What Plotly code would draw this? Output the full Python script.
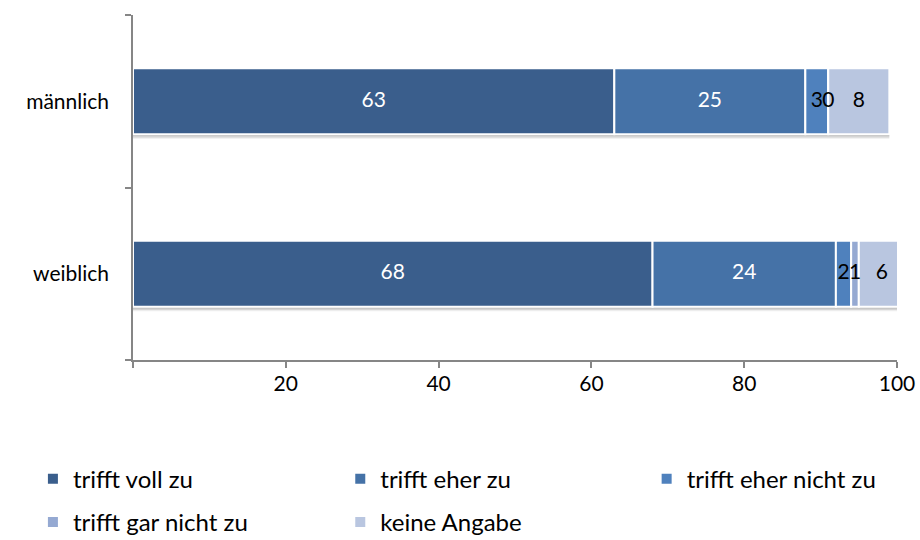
import numpy as np
import plotly.graph_objects as go

# Categories (bottom to top) and answer shares in percent
categories = ["weiblich", "männlich"]
series_names = ["trifft voll zu", "trifft eher zu", "trifft eher nicht zu",
                "trifft gar nicht zu", "keine Angabe"]
voll_zu = [68, 63]
eher_zu = [24, 25]
eher_nicht_zu = [2, 3]
gar_nicht_zu = [1, 0]
keine_angabe = [6, 8]

series_values = [voll_zu, eher_zu, eher_nicht_zu, gar_nicht_zu, keine_angabe]
colors = ["#3A5E8C", "#4572A7", "#4F81BD", "#95A9D2", "#B9C6E0"]
label_colors = ["white", "white", "black", "black", "black"]
legend_ids = ["legend", "legend2", "legend3", "legend", "legend2"]

x_tickvals = [0, 20, 40, 60, 80, 100]
x_ticktext = ["", "20", "40", "60", "80", "100"]

FONT = "Lato"
BAR_W = 0.383

vals = np.array(series_values, dtype=float)
bases = np.vstack([np.zeros(vals.shape[1]), np.cumsum(vals, axis=0)[:-1]])
totals = vals.sum(axis=0)

fig = go.Figure()

# soft drop shadow under each bar
for shift, alpha in [(0.026, 0.07), (0.018, 0.10), (0.010, 0.12)]:
    fig.add_trace(go.Bar(
        y=categories, x=totals, base=[0] * len(categories), orientation="h",
        width=BAR_W, offset=-BAR_W / 2 - shift,
        marker=dict(color=f"rgba(0,0,0,{alpha})", line=dict(width=0)),
        showlegend=False, hoverinfo="skip",
    ))

for i, name in enumerate(series_names):
    fig.add_trace(go.Bar(
        y=categories, x=vals[i], base=bases[i], orientation="h",
        name=name, width=BAR_W,
        marker=dict(color=colors[i], line=dict(color="white", width=2)),
        legend=legend_ids[i], legendgroup=name,
    ))

# value labels centred on each segment
for i, name in enumerate(series_names):
    fig.add_trace(go.Scatter(
        y=categories, x=bases[i] + vals[i] / 2, mode="text",
        text=[str(int(v)) for v in series_values[i]],
        textposition="middle center",
        textfont=dict(family=FONT, size=21, color=label_colors[i]),
        showlegend=False, hoverinfo="skip", cliponaxis=False,
    ))

axis_col = "#868686"
legend_common = dict(
    orientation="v", xanchor="left", yanchor="top",
    font=dict(family=FONT, size=24, color="black"),
    tracegroupgap=9, traceorder="grouped", bgcolor="rgba(0,0,0,0)",
)
fig.update_layout(
    width=920, height=540,
    margin=dict(l=133, r=23, t=15, b=180, autoexpand=False),
    paper_bgcolor="white", plot_bgcolor="white",
    barmode="overlay",
    font=dict(family=FONT, size=21, color="black"),
    xaxis=dict(
        range=[0, 100], tickvals=x_tickvals, ticktext=x_ticktext,
        showline=True, linecolor=axis_col, linewidth=1.5,
        ticks="outside", ticklen=6, tickcolor=axis_col, tickwidth=1.5,
        showgrid=False, zeroline=False, ticklabelstandoff=-2,
        tickfont=dict(family=FONT, size=21, color="black"),
    ),
    yaxis=dict(
        type="category", categoryorder="array", categoryarray=categories,
        range=[-0.5, 1.5], showline=True, linecolor=axis_col, linewidth=1.5,
        ticks="outside", ticklen=6, tickcolor=axis_col, tickwidth=1.5,
        tickson="boundaries", showgrid=False, zeroline=False,
        ticklabelstandoff=18,
        tickfont=dict(family=FONT, size=21, color="black"),
    ),
    legend=dict(x=-0.131, y=-0.28, **legend_common),
    legend2=dict(x=0.2713, y=-0.28, **legend_common),
    legend3=dict(x=0.6723, y=-0.28, **legend_common),
    showlegend=True,
)

fig.write_html("out.html")
